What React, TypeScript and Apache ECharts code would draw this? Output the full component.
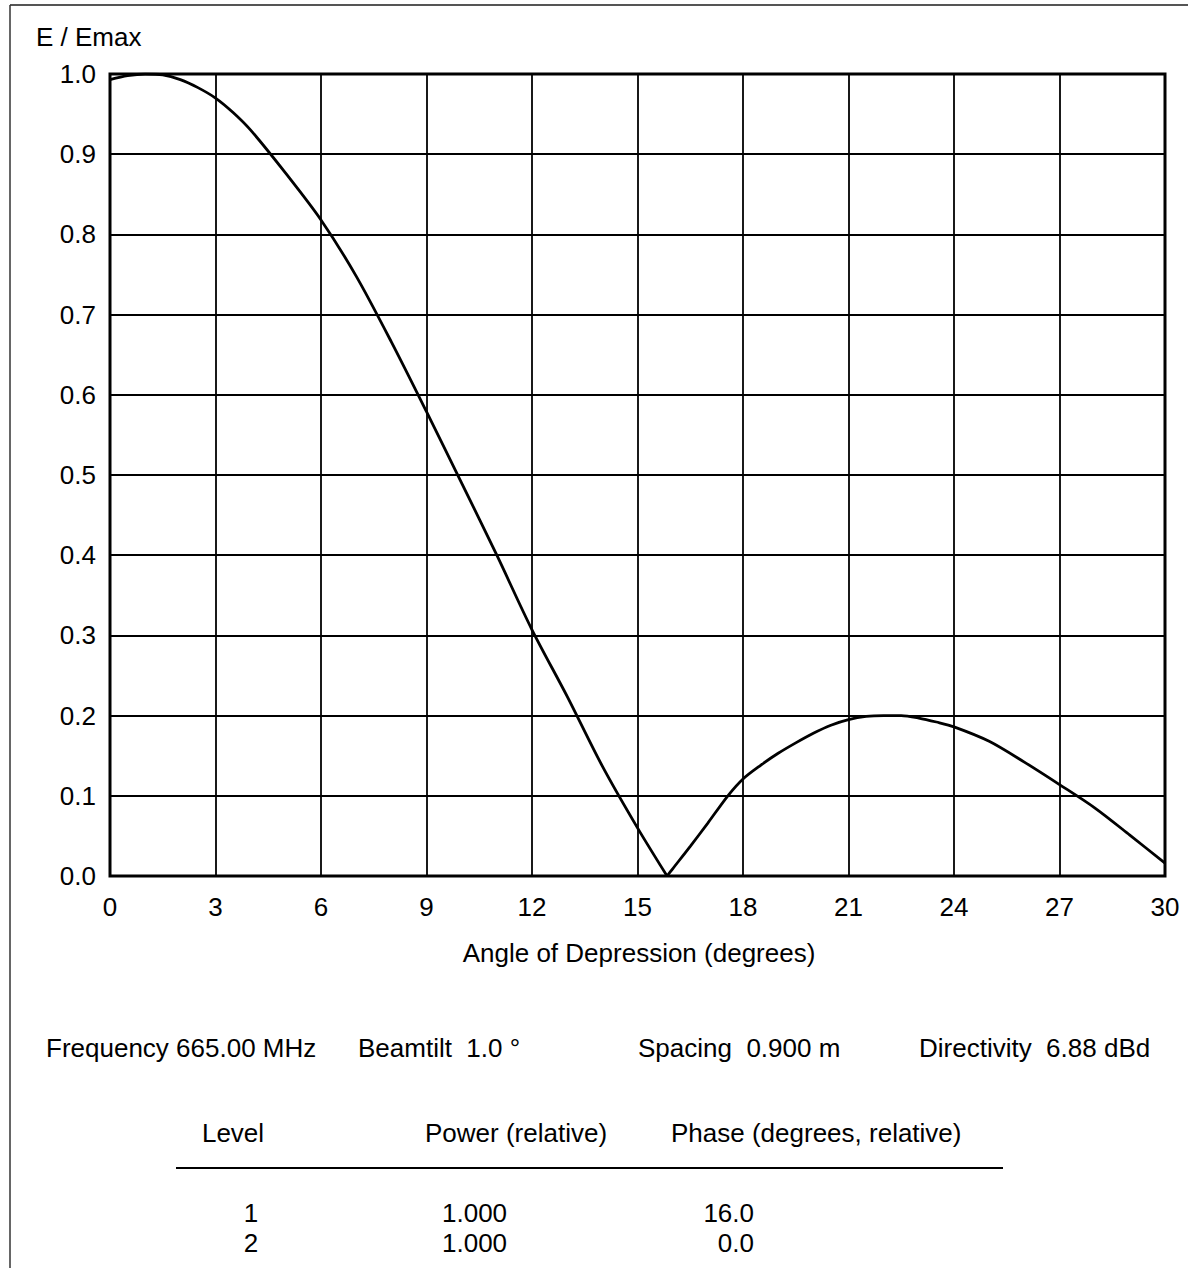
import React, { useEffect, useRef } from "react";
import * as echarts from "echarts";

const angles = [0, 0.5, 1, 1.5, 2, 2.5, 3, 3.5, 4, 5, 6, 7, 8, 9, 10, 11, 12, 13, 14, 15, 15.84, 16, 16.5, 17, 17.57, 18, 18.5, 19, 19.5, 20, 20.5, 21, 21.5, 22, 22.5, 23, 23.5, 24, 25, 26, 27, 28, 29, 30];
const eRel = [0.993, 0.998, 1.0, 0.999, 0.993, 0.983, 0.97, 0.952, 0.93, 0.876, 0.818, 0.748, 0.666, 0.579, 0.49, 0.4, 0.307, 0.224, 0.137, 0.06, 0.0, 0.009, 0.037, 0.066, 0.1, 0.121, 0.138, 0.153, 0.166, 0.178, 0.188, 0.195, 0.199, 0.2, 0.2, 0.197, 0.192, 0.186, 0.168, 0.142, 0.114, 0.085, 0.051, 0.016];
const nullAngle = 15.84;

const yAxisTitle = "E / Emax";
const xAxisTitle = "Angle of Depression (degrees)";
const infoTexts = ["Frequency 665.00 MHz", "Beamtilt  1.0 °", "Spacing  0.900 m", "Directivity  6.88 dBd"];
const tableHeaders = ["Level", "Power (relative)", "Phase (degrees, relative)"];
const levels = ["1", "2"];
const powers = ["1.000", "1.000"];
const phases = ["16.0", "0.0"];

const FONT = "'Liberation Sans', Arial, Helvetica, sans-serif";
const FS = 26;

function txt(text: string, x: number, y: number, align = "left") {
  return {
    type: "text",
    x,
    y,
    silent: true,
    style: {
      text,
      fontSize: FS,
      fontFamily: FONT,
      fill: "#000",
      align,
      verticalAlign: "middle",
      textAlign: align,
      textVerticalAlign: "middle",
    },
  };
}

export default function App() {
  const ref = useRef<HTMLDivElement>(null);
  useEffect(() => {
    if (!ref.current) return;
    const chart = echarts.init(ref.current, null, { renderer: "svg" });
    const data = angles.map((a, i) => [a, eRel[i]]);
    const mainLobe = data.filter((d) => d[0] <= nullAngle);
    const sideLobe = data.filter((d) => d[0] >= nullAngle);
    const infoX = [46, 358, 638, 919];
    const graphic: any[] = [
      { type: "line", silent: true, shape: { x1: 10, y1: 5, x2: 1188, y2: 5 }, style: { stroke: "#555", lineWidth: 2 } },
      { type: "line", silent: true, shape: { x1: 10, y1: 5, x2: 10, y2: 1268 }, style: { stroke: "#333", lineWidth: 1.5 } },
      txt(yAxisTitle, 36, 37),
      txt(xAxisTitle, 639, 953, "center"),
      ...infoTexts.map((t, i) => txt(t, infoX[i], 1048)),
      txt(tableHeaders[0], 233, 1133, "center"),
      txt(tableHeaders[1], 425, 1133),
      txt(tableHeaders[2], 671, 1133),
      { type: "line", silent: true, shape: { x1: 176, y1: 1168, x2: 1003, y2: 1168 }, style: { stroke: "#000", lineWidth: 2 } },
      ...levels.map((t, i) => txt(t, 251, 1213 + i * 30, "center")),
      ...powers.map((t, i) => txt(t, 442, 1213 + i * 30)),
      ...phases.map((t, i) => txt(t, 754, 1213 + i * 30, "right")),
    ];
    const lineSeries = (d: number[][]) => ({
      type: "line",
      data: d,
      symbol: "none",
      smooth: 0.3,
      lineStyle: { color: "#000", width: 2.8 },
      z: 5,
    });
    chart.setOption({
      animation: false,
      backgroundColor: "#fff",
      grid: { left: 110, top: 74, right: 23, bottom: 397, show: true, borderColor: "#000", borderWidth: 3, backgroundColor: "transparent" },
      xAxis: {
        type: "value",
        min: 0,
        max: 30,
        interval: 3,
        axisLine: { show: false },
        axisTick: { show: false },
        splitLine: { show: true, lineStyle: { color: "#000", width: 1.8 } },
        axisLabel: { color: "#000", fontSize: FS, fontFamily: FONT, margin: 18 },
      },
      yAxis: {
        type: "value",
        min: 0,
        max: 1,
        interval: 0.1,
        axisLine: { show: false },
        axisTick: { show: false },
        splitLine: { show: true, lineStyle: { color: "#000", width: 1.8 } },
        axisLabel: { color: "#000", fontSize: FS, fontFamily: FONT, margin: 14, formatter: (v: number) => v.toFixed(1) },
      },
      series: [lineSeries(mainLobe), lineSeries(sideLobe)],
      graphic,
    });
    return () => chart.dispose();
  }, []);
  return <div ref={ref} style={{ position: "absolute", left: 0, top: 0, width: 1188, height: 1273 }} />;
}
